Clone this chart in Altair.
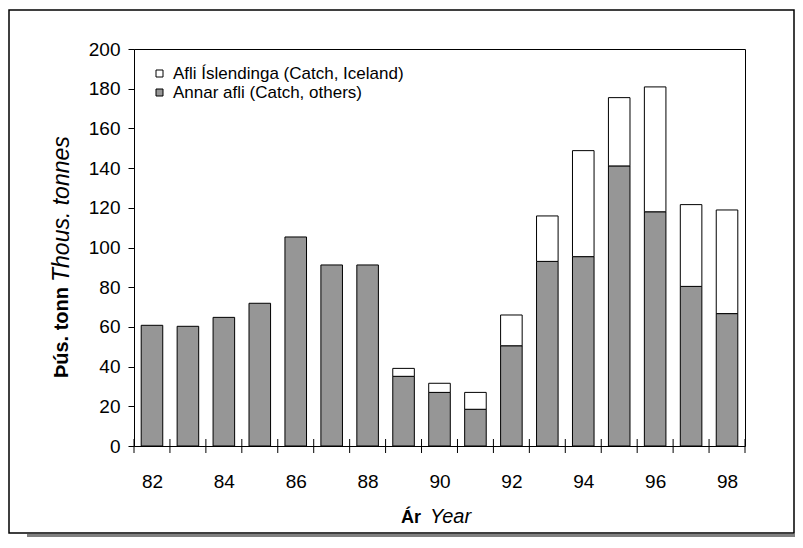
import altair as alt
import pandas as pd

years = [82, 83, 84, 85, 86, 87, 88, 89, 90, 91, 92, 93, 94, 95, 96, 97, 98]
catch_others = [60.8, 60.3, 64.8, 71.9, 105.3, 91.2, 91.2, 35.1, 27.0, 18.5,
                50.5, 93.0, 95.4, 141.1, 118.0, 80.4, 66.7]
catch_iceland = [0, 0, 0, 0, 0, 0, 0, 4.0, 4.6, 8.5,
                 15.5, 22.9, 53.4, 34.4, 62.9, 41.2, 52.2]
series_names = ["Afli Íslendinga (Catch, Iceland)", "Annar afli (Catch, others)"]
y_ticks = [0, 20, 40, 60, 80, 100, 120, 140, 160, 180, 200]
x_tick_values = [81.5, 82.5, 83.5, 84.5, 85.5, 86.5, 87.5, 88.5, 89.5, 90.5,
                 91.5, 92.5, 93.5, 94.5, 95.5, 96.5, 97.5, 98.5]
BAR_HALF = 0.3

rows = []
for yr, o, i in zip(years, catch_others, catch_iceland):
    rows.append({"x0": yr - BAR_HALF, "x1": yr + BAR_HALF, "y0": 0, "y1": o,
                 "series": series_names[1]})
    if i > 0:
        rows.append({"x0": yr - BAR_HALF, "x1": yr + BAR_HALF, "y0": o, "y1": o + i,
                     "series": series_names[0]})
df = pd.DataFrame(rows)
ticks_df = pd.DataFrame({"x0": x_tick_values})
one = pd.DataFrame({"k": [0]})

FONT = "Liberation Sans"
W, H = 611, 397
PL, PT, PR, PB = 126, 41, 50, 91
HALF_STEP = W / len(years) / 2

x_scale = alt.Scale(domain=[81.5, 98.5], nice=False, zero=False)

bars = alt.Chart(df).mark_rect(stroke="black", strokeWidth=1, opacity=1).encode(
    x=alt.X("x0:Q", scale=x_scale,
            axis=alt.Axis(title=None, labelAngle=0, values=x_tick_values,
                          domain=False, grid=False, ticks=False,
                          labelColor="black",
                          labelFont=FONT, labelFontSize=19, labelPadding=26,
                          labelFlush=False, labelOverlap=False,
                          labelOffset=HALF_STEP,
                          labelExpr="(datum.value + 0.5) % 2 == 0 ? format(datum.value + 0.5, 'd') : ''")),
    x2="x1:Q",
    y=alt.Y("y0:Q",
            scale=alt.Scale(domain=[0, 200], nice=False),
            axis=alt.Axis(title=None, values=y_ticks, grid=False, tickSize=6,
                          domainColor="black", tickColor="black",
                          labelColor="black", labelFont=FONT, labelFontSize=19,
                          labelPadding=8)),
    y2="y1:Q",
    color=alt.Color("series:N",
                    scale=alt.Scale(domain=series_names, range=["white", "#969696"]),
                    legend=alt.Legend(orient="none", legendX=17, legendY=16,
                                      title=None, symbolType="square",
                                      symbolSize=49, symbolStrokeColor="black",
                                      symbolStrokeWidth=1, labelFontSize=17,
                                      labelFont=FONT, labelColor="black",
                                      labelOffset=5, rowPadding=1, padding=0,
                                      labelLimit=500, symbolOpacity=1)),
)

xticks = alt.Chart(ticks_df).mark_rule(color="black", strokeWidth=1).encode(
    x=alt.X("x0:Q", scale=x_scale), y=alt.value(H - 7), y2=alt.value(H + 7)
)

frame = alt.Chart(one).mark_rect(fillOpacity=0, stroke="black", strokeWidth=1.5).encode(
    x=alt.value(-125), x2=alt.value(660), y=alt.value(-39), y2=alt.value(H + PB - 4)
)
shadow = alt.Chart(one).mark_rect(fill="#808080").encode(
    x=alt.value(-107), x2=alt.value(661), y=alt.value(H + PB - 3), y2=alt.value(H + PB)
)

ytitle_b = alt.Chart(one).mark_text(text="Þús. tonn", angle=270, align="right",
                                    baseline="middle", font=FONT, fontSize=20,
                                    fontWeight="bold", color="black").encode(
    x=alt.value(-72), y=alt.value(238))
ytitle_i = alt.Chart(one).mark_text(text="Thous. tonnes", angle=270, align="left",
                                    baseline="middle", font=FONT, fontSize=23,
                                    fontStyle="italic", color="black").encode(
    x=alt.value(-72), y=alt.value(233))
xtitle_b = alt.Chart(one).mark_text(text="Ár", align="right", baseline="alphabetic",
                                    font=FONT, fontSize=18, fontWeight="bold",
                                    color="black").encode(
    x=alt.value(287), y=alt.value(474))
xtitle_i = alt.Chart(one).mark_text(text="Year", align="left", baseline="alphabetic",
                                    font=FONT, fontSize=20, fontStyle="italic",
                                    color="black").encode(
    x=alt.value(296), y=alt.value(474))

chart = alt.layer(frame, shadow, bars, xticks, ytitle_b, ytitle_i, xtitle_b, xtitle_i).properties(
    width=W, height=H,
    autosize=alt.AutoSizeParams(type="none"),
    padding={"left": PL, "top": PT, "right": PR, "bottom": PB},
).configure_view(stroke="black", strokeWidth=1)

chart.save("out.html", embed_options={"renderer": "svg", "actions": False})
